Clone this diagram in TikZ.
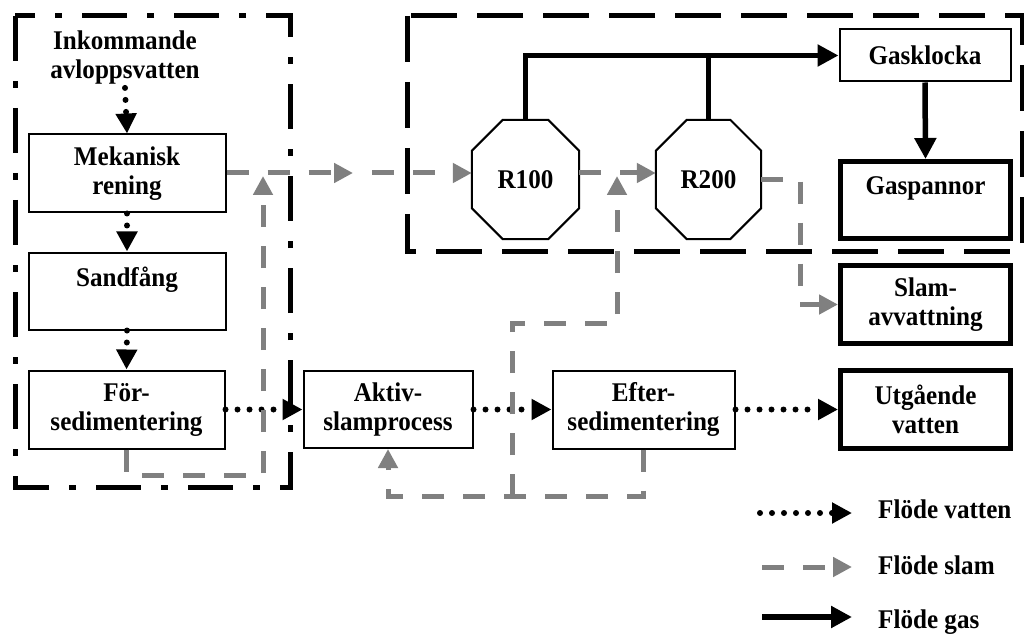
\documentclass[tikz,border=0pt]{standalone}
\usepackage{fontspec}
\setmainfont{Liberation Serif}[FakeStretch=0.93]
\usetikzlibrary{arrows.meta,calc}
\definecolor{slamgray}{RGB}{128,128,128}
\begin{document}
\begin{tikzpicture}[x=1pt,y=-1pt,
  lbl/.style={font=\bfseries\fontsize{27}{29}\selectfont, align=center},
  box/.style={lbl, draw, line width=2pt, inner sep=0pt},
  thickbox/.style={box, line width=5pt},
  octo/.style={lbl, inner sep=0pt, minimum height=119pt},
  octoline/.style={line width=2pt, line join=miter},
  water/.style={line width=6pt, line cap=round, dash pattern=on 0pt off 12pt, -{Triangle[length=20pt,width=20pt]}},
  sludge/.style={line width=5pt, color=slamgray, dash pattern=on 22pt off 19pt, -{Triangle[length=19pt,width=19pt]}},
  sludgeoff/.style={sludge, dash phase=22pt},
  gasline/.style={line width=5.5pt},
  gas/.style={gasline, -{Triangle[length=21pt,width=21pt]}},
  frameA/.style={line width=5pt, dash pattern=on 45pt off 20pt on 7pt off 20pt},
  frameB/.style={line width=5pt, dash pattern=on 46pt off 20pt},
]
\useasboundingbox (0,0) rectangle (1024,636);

% frames
\draw[frameA] (15,16) rectangle (290,487);
\draw[frameB] (407,16) rectangle (1022,251);

% nodes
\node[lbl, inner sep=3pt] (inc) at (125,58) {Inkommande\\avloppsvatten};
\node[box, minimum width=197pt, minimum height=78pt] (mek) at (127,173.5) {Mekanisk\\rening};
\node[box, minimum width=197pt, minimum height=77pt] (sand) at (127,291) {Sandfång\\~};
\node[box, minimum width=196pt, minimum height=78pt] (fore) at (126.5,409.5) {För-\\sedimentering};
\node[box, minimum width=169pt, minimum height=77pt] (akt) at (388,409.5) {Aktiv-\\slamprocess};
\node[box, minimum width=182pt, minimum height=78pt] (eft) at (643.5,409.5) {Efter-\\sedimentering};
\node[thickbox, minimum width=170pt, minimum height=78pt] (utg) at (925.5,409.5) {Utgående\\vatten};
\node[thickbox, minimum width=170pt, minimum height=78pt] (slam) at (925.5,304.5) {Slam-\\avvattning};
\node[thickbox, minimum width=170pt, minimum height=77pt] (gasp) at (925.5,200) {Gaspannor\\~};
\node[box, minimum width=171pt, minimum height=52pt] (gask) at (925,55.5) {Gasklocka};
\node[octo, minimum width=107pt] (r1) at (525.5,179.5) {R100};
\node[octo, minimum width=105pt] (r2) at (708.5,179.5) {R200};

\foreach \n in {r1,r2}{
  \draw[octoline] ($(\n.north west)+(31,0)$) -- ($(\n.north east)+(-31,0)$)
    -- ($(\n.north east)+(0,31)$) -- ($(\n.south east)+(0,-31)$)
    -- ($(\n.south east)+(-31,0)$) -- ($(\n.south west)+(31,0)$)
    -- ($(\n.south west)+(0,-31)$) -- ($(\n.north west)+(0,31)$) -- cycle;
}

% helper coordinates
\coordinate (m1) at (353,173);
\coordinate (up1) at (263,176);
\coordinate (up2) at (617,176);
\coordinate (c1) at (263,475);
\coordinate (c2) at (388,496);
\coordinate (c3) at (512,496);
\coordinate (c4) at (512,323);
\coordinate (c5) at (800,304.5);

% water
\draw[water] (inc.south) -- (mek.north);
\draw[water] (mek.south) -- (sand.north);
\draw[water] (sand.south) -- (fore.north);
\draw[water] (fore.east) -- (akt.west);
\draw[water] (akt.east) -- (eft.west);
\draw[water] (eft.east) -- (utg.west);

% sludge
\draw[sludge] (mek.east |- m1) -- (m1);
\draw[sludgeoff] (m1) -- (r1.west |- m1);
\draw[sludge] (r1.east |- m1) -- (r2.west |- m1);
\draw[sludge] (fore.south) |- (c1) -- (up1);
\draw[sludge] (eft.south) |- (c2) -- (akt.south);
\draw[sludge] (c3) -- (c4) -| (up2);
\draw[sludge] (r2.east) -| (c5) -- (slam.west);

% gas
\draw[gas] (r1.north) |- (gask.west);
\draw[gasline] (r2.north) -- (r2.north |- gask.west);
\draw[gas] (gask.south) -- (gasp.north);

% legend
\coordinate (lw1) at (760,513); \coordinate (lw2) at (852,513);
\coordinate (ls1) at (762,567); \coordinate (ls2) at (852,567);
\coordinate (lg1) at (762,617); \coordinate (lg2) at (852,617);
\draw[water] (lw1) -- (lw2);
\draw[sludge] (ls1) -- (ls2);
\draw[gas] (lg1) -- (lg2);
\node[lbl, anchor=base west, inner sep=0pt] (tw) at (878,518) {Flöde vatten};
\node[lbl, anchor=base west, inner sep=0pt] (ts) at (878,574) {Flöde slam};
\node[lbl, anchor=base west, inner sep=0pt] (tg) at (878,628) {Flöde gas};
\end{tikzpicture}
\end{document}
